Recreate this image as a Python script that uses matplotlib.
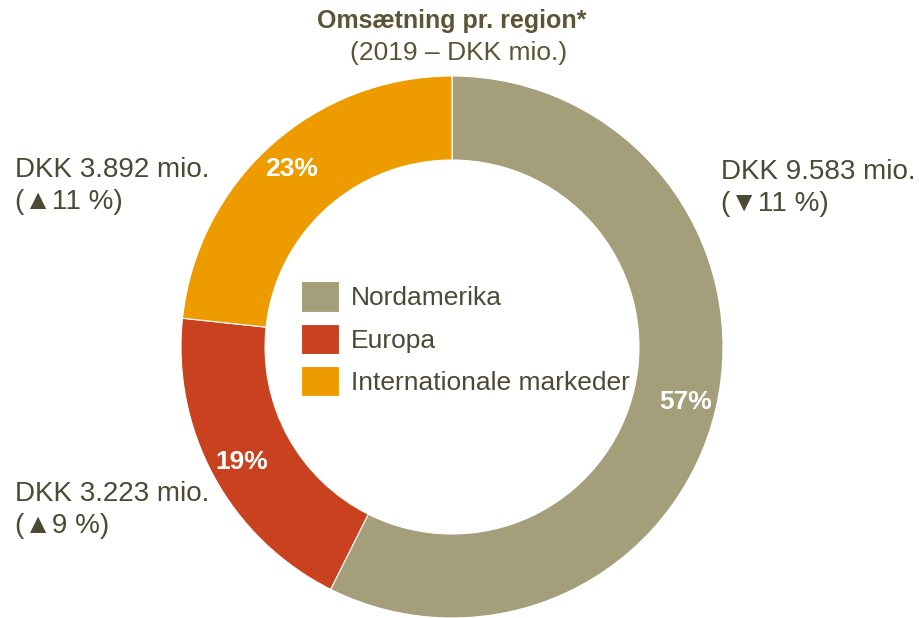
import matplotlib.pyplot as plt

regions = ['Nordamerika', 'Europa', 'Internationale markeder']
revenue = [9583, 3223, 3892]
change = ['\u25BC11 %', '\u25B29 %', '\u25B211 %']
colors = ['#A59E7A', '#C9411E', '#EE9B00']

text_col = '#4B4A35'
title_col = '#5C5434'
fam = ['Liberation Sans', 'DejaVu Sans']

W, H = 920, 618
fig = plt.figure(figsize=(W / 100, H / 100), dpi=100)
ax = fig.add_axes([0, 0, 1, 1])

# pixel coords (y down) -> data coords
def py(y):
    return H - y

wedges, texts, autotexts = ax.pie(
    revenue, colors=colors, startangle=90, counterclock=False,
    center=(452, py(347)), radius=271,
    wedgeprops=dict(width=84, edgecolor='white', linewidth=0.8),
    autopct=lambda p: '%.0f%%' % p, pctdistance=0.885,
    textprops=dict(color='white', fontsize=19, fontweight='bold', family=fam))

ax.set_xlim(0, W)
ax.set_ylim(0, H)
ax.set_aspect('equal')
ax.axis('off')

ax.text(452, py(21), 'Omsætning pr. region*', ha='center', va='center',
        fontsize=18, fontweight='bold', color=title_col, family=fam)
ax.text(459, py(53), '(2019 \u2013 DKK mio.)', ha='center', va='center',
        fontsize=19, color=title_col, family=fam)

label_pos = [(721, 188), (15, 510), (15, 186)]
for (x, y), v, c in zip(label_pos, revenue, change):
    s = 'DKK {:,} mio.'.format(v).replace(',', '.')
    ax.text(x, py(y), s + '\n(' + c + ')', ha='left', va='center',
            fontsize=20, color=text_col, family=fam, linespacing=1.3)

leg = ax.legend(wedges, regions, loc='upper left',
                bbox_to_anchor=(288 / W, 1 - 268 / H), bbox_transform=fig.transFigure,
                frameon=False, borderpad=0, handlelength=1.44, handleheight=1.4,
                handletextpad=0.45, labelspacing=0.45,
                prop=dict(family=fam, size=19))
for t in leg.get_texts():
    t.set_color(text_col)

plt.savefig('out.png', dpi=100)
